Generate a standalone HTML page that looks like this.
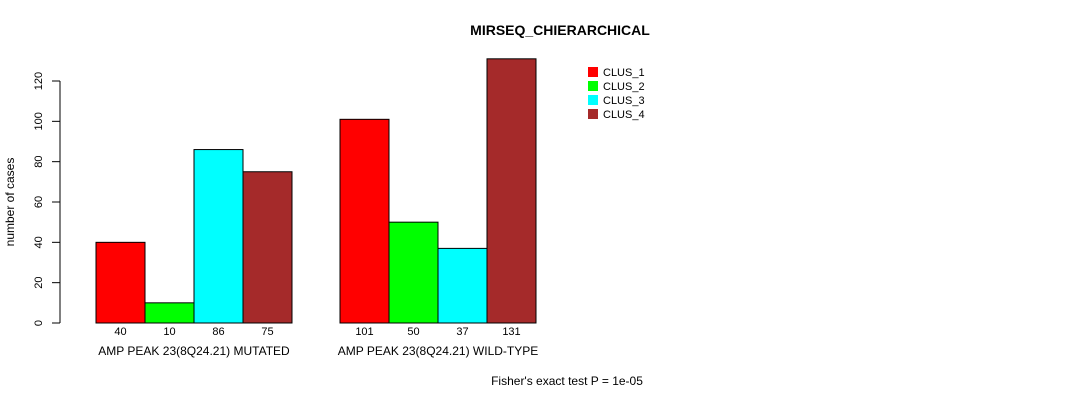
<!DOCTYPE html>
<html><head><meta charset="utf-8"><style>
html,body{margin:0;padding:0;background:#fff;}
svg{display:block;font-family:"Liberation Sans",sans-serif;}
</style></head><body>
<svg id="chart" width="1090" height="400" viewBox="0 0 1090 400">
<text x="560" y="35" text-anchor="middle" font-size="14" font-weight="bold">MIRSEQ_CHIERARCHICAL</text>
<text x="14" y="202" text-anchor="middle" font-size="12" transform="rotate(-90 14 202)">number of cases</text>
<text x="567" y="385" text-anchor="middle" font-size="12">Fisher's exact test P = 1e-05</text>
<g id="yaxis"></g>
<g id="bars"></g>
<g id="legend"></g>
</svg>
<script>
const groups = ["AMP PEAK 23(8Q24.21) MUTATED", "AMP PEAK 23(8Q24.21) WILD-TYPE"];
const clusters = ["CLUS_1", "CLUS_2", "CLUS_3", "CLUS_4"];
const mutatedValues = [40, 10, 86, 75];
const wildTypeValues = [101, 50, 37, 131];
const yTicks = [0, 20, 40, 60, 80, 100, 120];
const colors = ["#ff0000", "#00ff00", "#00ffff", "#a52a2a"];

const NS = "http://www.w3.org/2000/svg";
function mk(tag, attrs, parent) { const e = document.createElementNS(NS, tag); for (const k in attrs) e.setAttribute(k, attrs[k]); parent.appendChild(e); return e; }
const y0 = 323, pxPerUnit = (323 - 81) / 120;
function yScale(v) { return y0 - v * pxPerUnit; }
const barW = 49, groupStarts = [96, 340];

const ya = document.getElementById('yaxis');
const axisLine = mk('line', {x1: 60, x2: 60, y1: yScale(yTicks[0]), y2: yScale(yTicks[yTicks.length - 1]), stroke: '#000'}, ya);


yTicks.forEach(t => {
  const tk = mk('line', {x1: 52, x2: 60, y1: yScale(t), y2: yScale(t), stroke: '#000'}, ya);
  
  
  const lb = mk('text', {x: 42, y: yScale(t), 'font-size': 11, 'text-anchor': 'middle', transform: 'rotate(-90 42 ' + yScale(t) + ')'}, ya);
  lb.textContent = t;
  
  
});

const bg = document.getElementById('bars');
[mutatedValues, wildTypeValues].forEach((vals, gi) => {
  vals.forEach((v, i) => {
    const x = groupStarts[gi] + i * barW;
    const r = mk('rect', {x: x, y: yScale(v), width: barW, height: yScale(0) - yScale(v), fill: colors[i], stroke: '#000', 'stroke-width': 1}, bg);
    
    
    const t = mk('text', {x: x + barW / 2, y: 335, 'font-size': 11, 'text-anchor': 'middle'}, bg);
    t.textContent = v;
    
    
  });
  const gl = mk('text', {x: groupStarts[gi] + barW * 2, y: 355, 'font-size': 12, 'text-anchor': 'middle'}, bg);
  gl.textContent = groups[gi];
  
  
});

const lg = document.getElementById('legend');
clusters.forEach((c, i) => {
  const y = 67 + i * 14;
  const b = mk('rect', {x: 588, y: y, width: 10, height: 10, fill: colors[i]}, lg);
  
  
  const t = mk('text', {x: 603, y: y + 9, 'font-size': 11}, lg);
  t.textContent = c;
  
  
});
</script>
</body></html>
